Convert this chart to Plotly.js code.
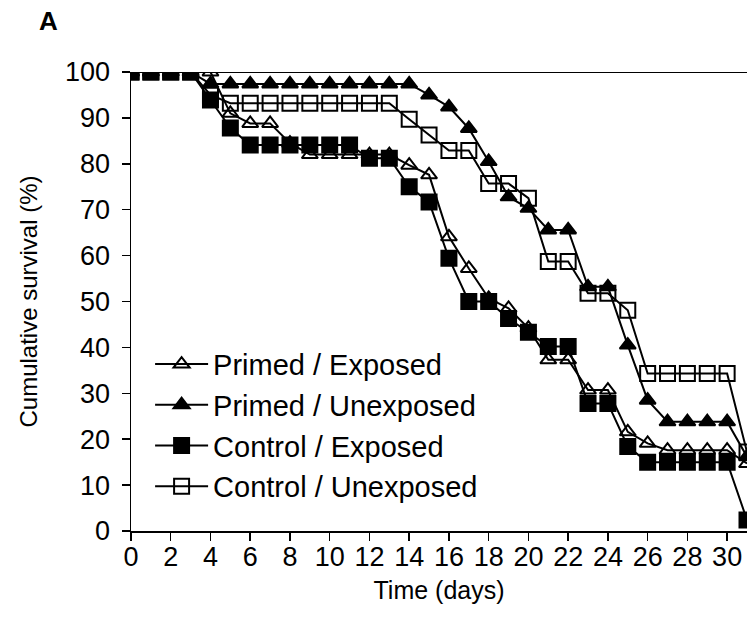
<!DOCTYPE html>
<html>
<head>
<meta charset="utf-8">
<script src="https://cdn.plot.ly/plotly-3.0.1.min.js"></script>
<style>html,body{margin:0;padding:0;background:#fff;}#chart{width:747px;height:634px;}</style>
</head>
<body>
<div id="chart"></div>
<script>
const days = [0,1,2,3,4,5,6,7,8,9,10,11,12,13,14,15,16,17,18,19,20,21,22,23,24,25,26,27,28,29,30,31];
const primedExposed   = [100,100,100,100,100,91,88.8,88.8,84.5,82,82,82,82,82,79.7,77.6,64.1,57.2,50.7,48.5,44.2,37.3,37.3,30.7,30.7,21.6,19.1,17.6,17.6,17.6,17.6,14.7];
const primedUnexposed = [100,100,100,100,97.4,97.4,97.4,97.4,97.4,97.4,97.4,97.4,97.4,97.4,97.4,95.0,92.4,87.7,80.5,72.8,70.3,65.6,65.6,53.2,53.2,40.5,28.5,23.8,23.8,23.8,23.8,16.2];
const controlExposed  = [100,100,100,100,93.9,87.8,84.1,84.1,84.1,84.1,84.1,84.1,81.2,81.2,75.0,71.7,59.4,50.0,50.0,46.3,43.3,40.2,40.2,27.8,27.8,18.4,15.0,15.0,15.0,15.0,15.0,2.4];
const controlUnexposed= [100,100,100,100,95.0,93.2,93.2,93.2,93.2,93.2,93.2,93.2,93.2,93.2,89.7,86.3,82.9,82.9,75.7,75.7,72.5,58.7,58.7,51.8,51.8,48.1,34.3,34.3,34.3,34.3,34.3,17.2];
const seriesNames = ["Primed / Exposed","Primed / Unexposed","Control / Exposed","Control / Unexposed"];
const xTickVals = [0,2,4,6,8,10,12,14,16,18,20,22,24,26,28,30];

const FONT = "Liberation Sans, Arial, sans-serif";
function tr(y, name, symbol, size, rank){
  return {x: days, y: y, name: name, type: 'scatter', mode: 'lines+markers',
    line: {color: '#000', width: 2},
    marker: {symbol: symbol, size: size, color: '#000', line: {color: '#000', width: 2}},
    legendrank: rank, legendgroup: name, cliponaxis: true};
}
const data = [
  tr(controlUnexposed, seriesNames[3], 'square-open', 15, 4),
  tr(primedExposed, seriesNames[0], 'triangle-up-open', 14, 1),
  tr(primedUnexposed, seriesNames[1], 'triangle-up', 14, 2),
  tr(controlExposed, seriesNames[2], 'square', 15, 3)
];
const layout = {
  width: 747, height: 634,
  margin: {l: 131, r: 0, t: 72, b: 103, pad: 0},
  paper_bgcolor: '#fff', plot_bgcolor: '#fff',
  font: {family: FONT, color: '#000', size: 26},
  showlegend: true,
  legend: {x: 0.031, y: 0.419, xanchor: 'left', yanchor: 'top', bgcolor: 'rgba(0,0,0,0)',
    font: {family: FONT, size: 29, color: '#000'}, itemwidth: 53, tracegroupgap: 11, traceorder: 'normal'},
  xaxis: {range: [0, 31], tickvals: xTickVals, ticks: 'outside', ticklen: 8, tickwidth: 1.5, tickcolor: '#000',
    showline: true, linecolor: '#000', linewidth: 1.5, showgrid: false, zeroline: false,
    tickfont: {family: FONT, size: 27, color: '#000'}, ticklabelstandoff: -7,
    title: {text: 'Time (days)', font: {family: FONT, size: 25, color: '#000'}, standoff: 10}},
  yaxis: {range: [0, 100], dtick: 10, ticks: 'outside', ticklen: 8, tickwidth: 1.5, tickcolor: '#000',
    showline: true, linecolor: '#000', linewidth: 1.5, showgrid: false, zeroline: false,
    tickfont: {family: FONT, size: 27, color: '#000'}, ticklabelstandoff: 6,
    title: {text: 'Cumulative survival (%)', font: {family: FONT, size: 24, color: '#000'}, standoff: 20}},
  shapes: [{type: 'line', xref: 'x', yref: 'y', x0: 0, x1: 31, y0: 100, y1: 100, line: {color: '#000', width: 2}, layer: 'below'}],
  annotations: [{text: '<b>A</b>', xref: 'paper', yref: 'paper', x: (37-131)/616, y: 1 + (72-21)/459,
    xanchor: 'left', yanchor: 'middle', showarrow: false, font: {family: FONT, size: 26, color: '#000'}}]
};
Plotly.newPlot('chart', data, layout, {displayModeBar: false, staticPlot: true});
</script>
</body>
</html>
